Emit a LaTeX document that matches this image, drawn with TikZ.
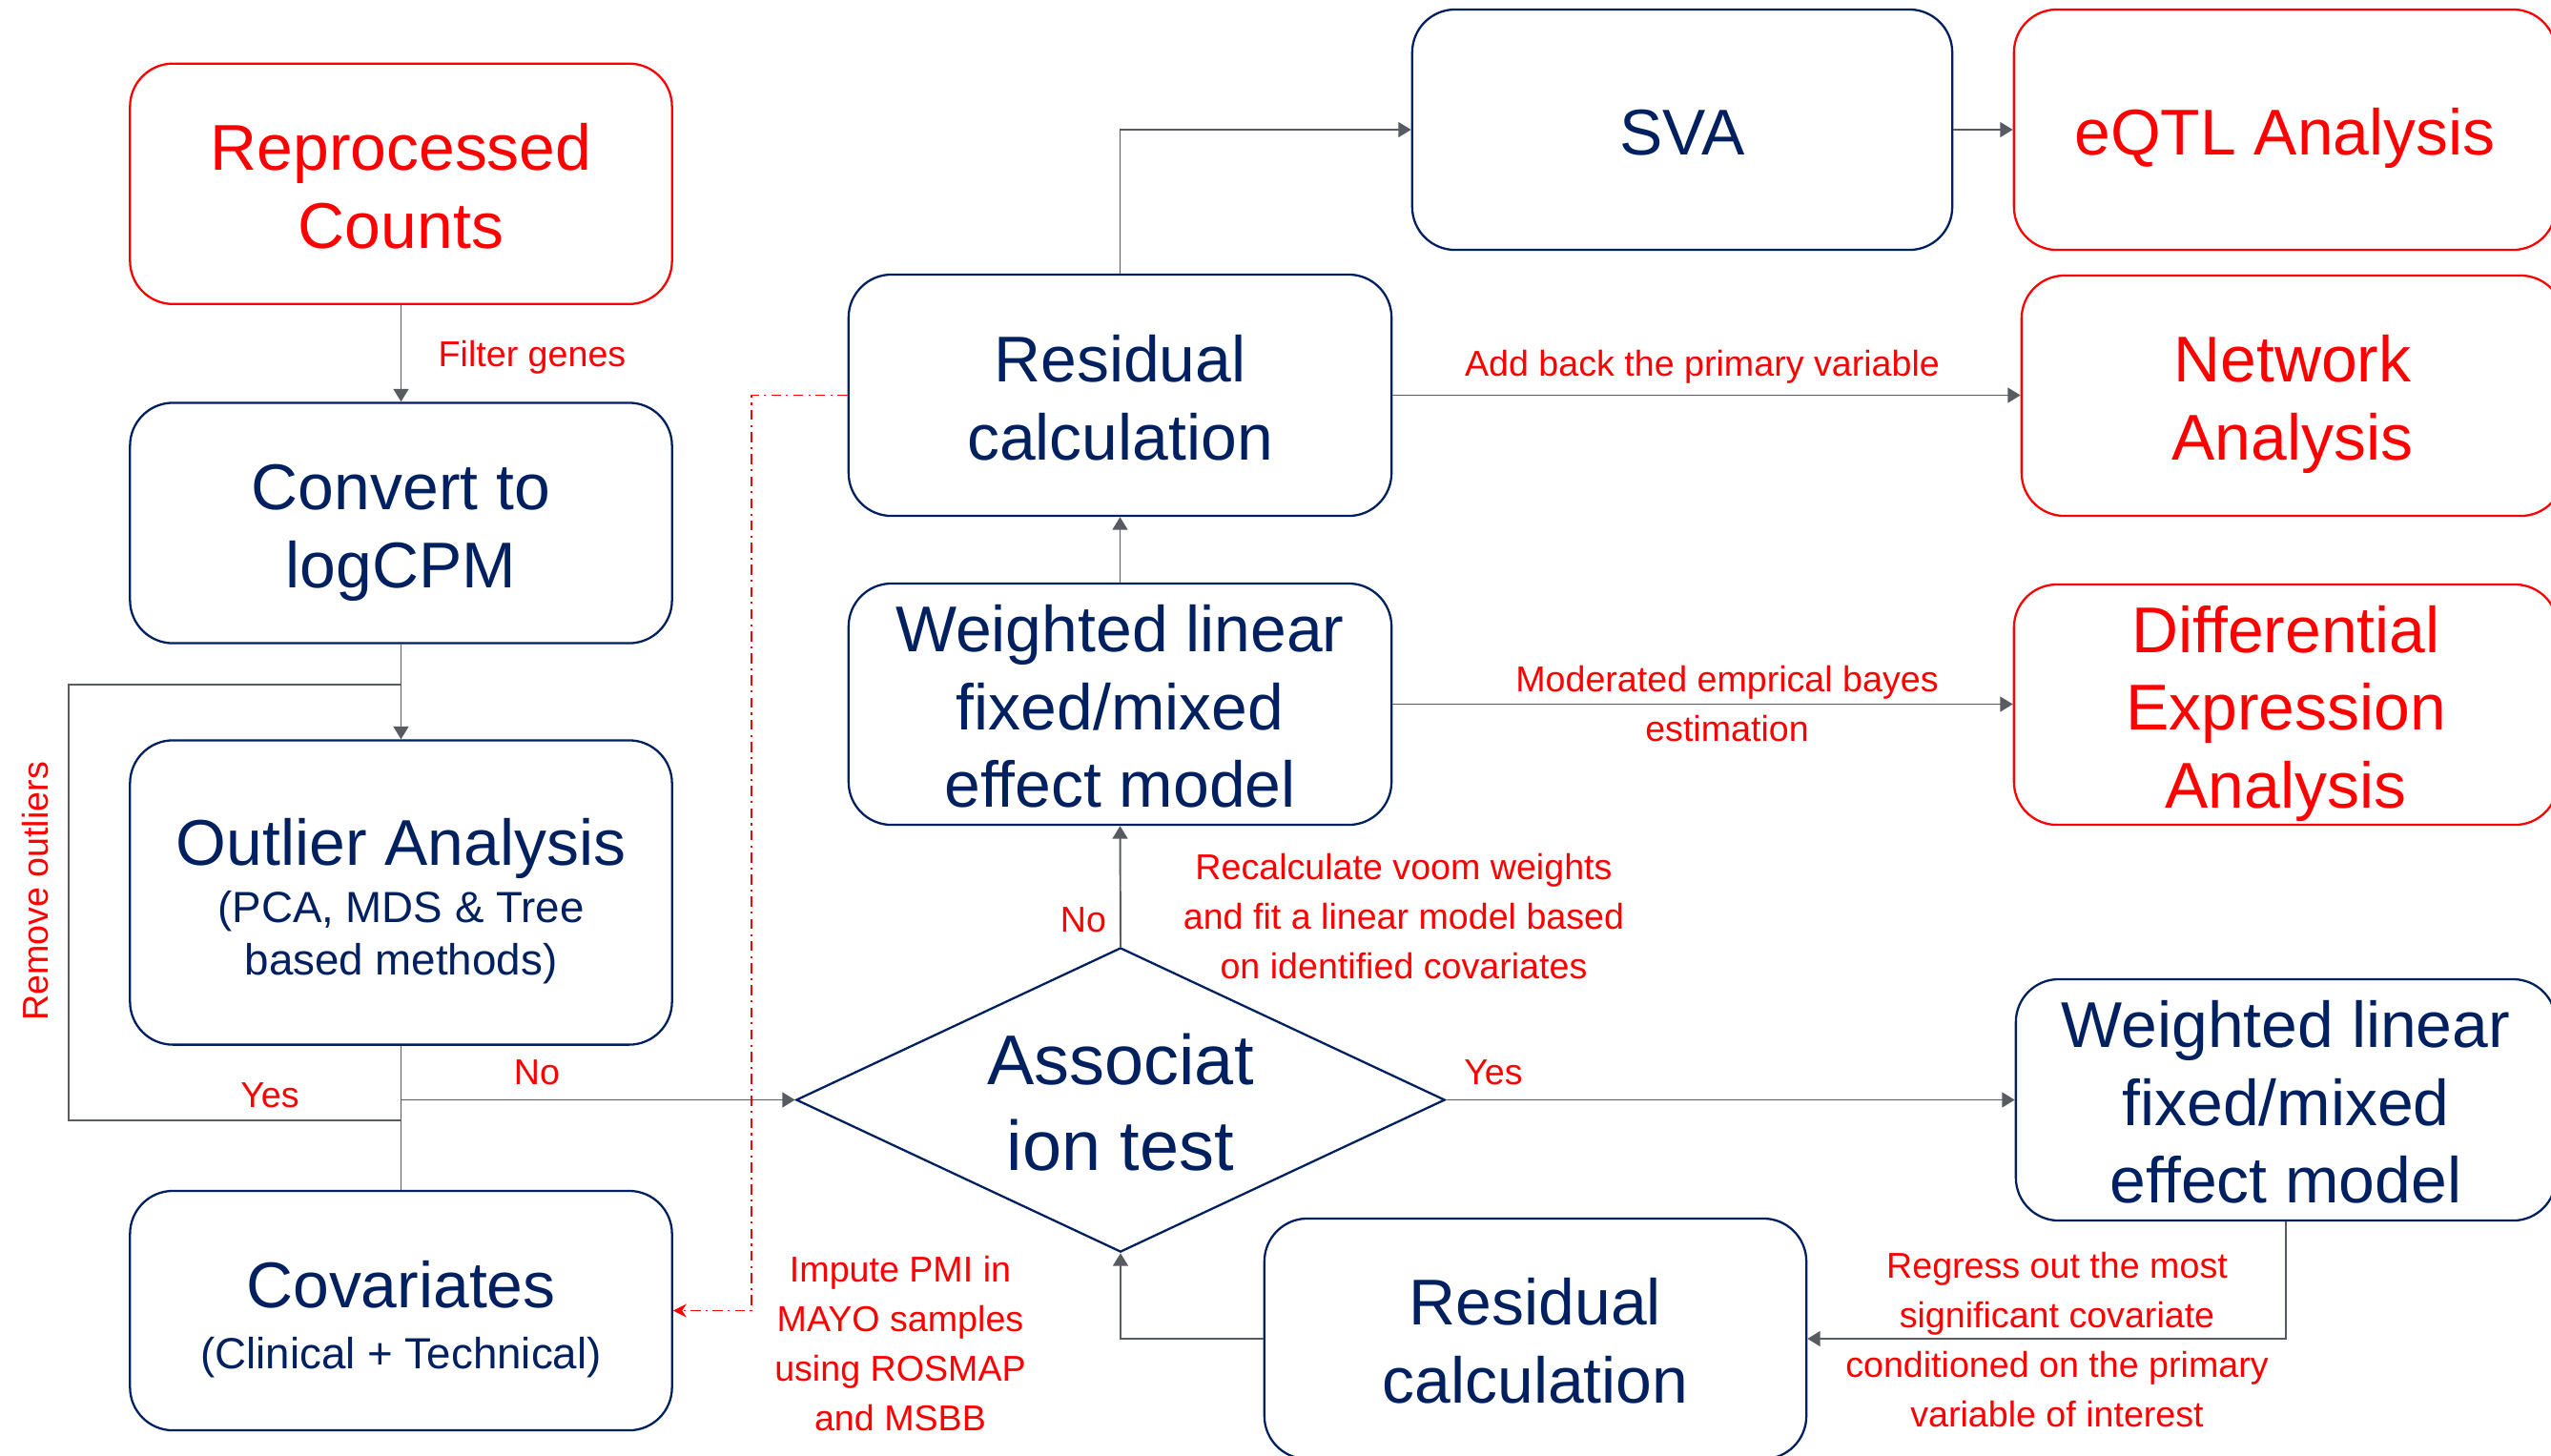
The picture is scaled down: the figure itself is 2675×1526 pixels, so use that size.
\documentclass[tikz,border=0pt]{standalone}
\usepackage{fontspec}
\setmainfont{Liberation Sans}
\usetikzlibrary{arrows.meta,shapes.geometric}
\definecolor{navy}{RGB}{0,32,96}
\definecolor{flowred}{RGB}{255,0,0}
\definecolor{linkgray}{RGB}{88,92,98}
\newcommand\boxfont{\fontsize{19.3}{23.2}\selectfont}
\newcommand\subfont{\fontsize{13}{15.6}\selectfont}
\newcommand\lblfont{\fontsize{10.7}{14.7}\selectfont}
% uniform line struts so every box centres its text the same way
\newcommand\headstrut{\rule{0pt}{1em}}
\newcommand\footstrut{\rule[-0.212em]{0pt}{0.212em}}

\begin{document}
\begin{tikzpicture}[x=0.01cm,y=-0.01cm,
  box/.style={draw=navy, text=navy, line width=0.65pt, rounded corners=0.45cm,
    minimum width=5.68cm, minimum height=2.52cm, align=center, inner sep=0pt,
    font=\boxfont},
  struts/.style={execute at end node=\footstrut},
  redbox/.style={box, draw=flowred, text=flowred},
  decision/.style={diamond, draw=navy, text=navy, line width=0.65pt,
    minimum width=6.8cm, minimum height=3.19cm, aspect=2.13, inner sep=0pt,
    align=center, font=\fontsize{21}{25.6}\selectfont},
  conn/.style={draw=linkgray, line width=0.55pt,
    -{Triangle[length=3.8pt,width=4.5pt]}},
  plain/.style={draw=linkgray, line width=0.55pt},
  dashlink/.style={draw=flowred, line width=0.45pt,
    dash pattern=on 3pt off 1.5pt on 0.6pt off 1.5pt,
    -{Stealth[length=4pt,width=4pt]}},
  lbl/.style={text=flowred, font=\lblfont, align=center, inner sep=0pt}
]
\path[use as bounding box] (0,0) rectangle (2675,1526);
\fill[white] (0,0) rectangle (2675,1526);
\clip (0,0) rectangle (2675,1526);

% left column
\node[redbox, struts] (reproc) at (420.5,192.75) {\headstrut Reprocessed\\Counts};
\node[box, struts] (convert) at (420.5,548.5) {\headstrut Convert to\\logCPM};
\node[box, minimum height=3.19cm, font=\subfont] (outlier) at (420.5,936)
  {{\boxfont\headstrut Outlier Analysis}\\[1.3pt](PCA, MDS \& Tree\\based methods)\footstrut};
\node[box, minimum height=2.51cm, font=\subfont] (covar) at (420.5,1374.5)
  {{\boxfont\headstrut Covariates}\\[2.5pt](Clinical + Technical)\footstrut};

% middle column
\node[box, struts, minimum width=5.69cm, minimum height=2.53cm] (resTop) at (1174.5,414.5) {\headstrut Residual\\calculation};
\node[box, struts, minimum width=5.69cm, minimum height=2.53cm] (wMid) at (1174.5,738.5) {\headstrut Weighted linear\\fixed/mixed\\effect model};
\node[decision, struts] (assoc) at (1175,1153.5) {\headstrut Associat\\ion test};
\node[box, struts, minimum width=5.66cm] (sva) at (1764,136) {\headstrut SVA};
\node[box, struts] (resBot) at (1610,1404) {\headstrut Residual\\calculation};

% right column
\node[redbox, struts] (eqtl) at (2396,136) {\headstrut eQTL Analysis};
\node[redbox, struts] (network) at (2404,415) {\headstrut Network\\Analysis};
\node[redbox, struts, minimum width=5.70cm] (de) at (2397,739) {\headstrut Differential\\Expression\\Analysis};
\node[box, struts, minimum width=5.66cm, minimum height=2.53cm] (wRight) at (2397,1153.5) {\headstrut Weighted linear\\fixed/mixed\\effect model};

% outlier loop
\coordinate (loopTop) at (420.5,718);
\coordinate (loopBot) at (420.5,1175);
\coordinate (loopCornerB) at (72,1175);
\coordinate (loopCornerT) at (72,718);
\coordinate (noFork) at (outlier.south |- assoc.west);
\coordinate (dashX) at (788,0);

\draw[conn] (reproc) -- (convert);
\draw[conn] (convert) -- (outlier);
\draw[plain] (outlier) -- (covar);
\draw[plain] (loopBot) -- (loopCornerB) -- (loopCornerT) -- (loopTop);
\draw[conn] (noFork) -- (assoc.west);
\draw[dashlink] (resTop.west) -- (resTop.west -| dashX) |- (covar.east);

\draw[conn] (assoc.north) -- (wMid.south);
\draw[conn] (wMid) -- (resTop);
\draw[conn] (resTop.north) |- (sva.west);
\draw[conn] (sva) -- (eqtl);
\draw[conn] (resTop.east) -- (resTop.east -| network.west);
\draw[conn] (wMid.east) -- (wMid.east -| de.west);
\draw[conn] (assoc.east) -- (assoc.east -| wRight.west);
\draw[conn] (wRight.south) |- (resBot.east);
\draw[conn] (resBot.west) -| (assoc.south);

% connector labels
\node[lbl] (lFilter) at (558,375) {Filter genes};
\node[lbl, rotate=90] (lRemove) at (37.5,935) {Remove outliers};
\node[lbl] (lYesL) at (283,1149) {Yes};
\node[lbl] (lNoL) at (563,1125) {No};
\node[lbl] (lAddBack) at (1785,385) {Add back the primary variable};
\node[lbl] (lModerated) at (1811,738) {Moderated emprical bayes\\estimation};
\node[lbl] (lNoC) at (1136,965) {No};
\node[lbl] (lRecalc) at (1472,961) {Recalculate voom weights\\and fit a linear model based\\on identified covariates};
\node[lbl] (lYesR) at (1566,1125) {Yes};
\node[lbl] (lImpute) at (944,1409) {Impute PMI in\\MAYO samples\\using ROSMAP\\and MSBB};
\node[lbl] (lRegress) at (2157,1405) {Regress out the most\\significant covariate\\conditioned on the primary\\variable of interest};
\end{tikzpicture}
\end{document}
